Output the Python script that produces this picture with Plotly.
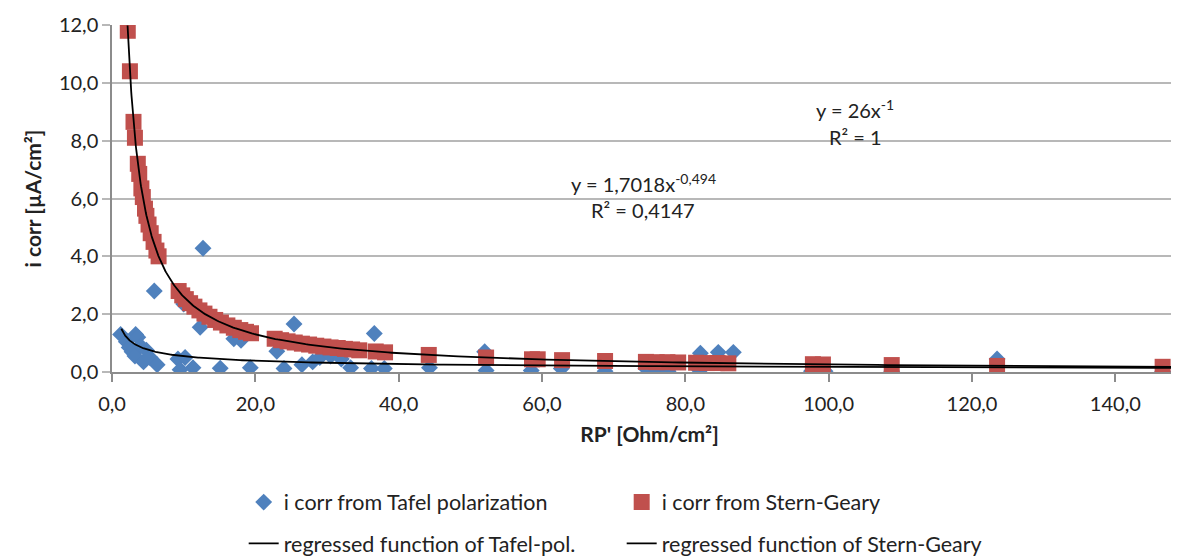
import plotly.graph_objects as go

# ---------------- data ----------------
tafel_x = [1.2, 2.0, 2.4, 2.8, 3.3, 3.6, 3.2, 4.0, 4.4, 4.8, 5.3, 6.3, 5.9, 9.2, 9.5,
           10.2, 10.0, 11.3, 12.3, 12.7, 15.1, 17.0, 18.0, 19.3, 23.0, 24.0, 25.4,
           26.5, 28.0, 29.0, 30.5, 32.0, 33.3, 36.2, 36.6, 38.0, 44.3, 52.0, 52.2,
           58.5, 62.7, 68.8, 74.5, 76.2, 77.6, 82.1, 84.6, 86.7, 82.0, 97.6, 99.5,
           108.8, 123.5, 146.6]
tafel_y = [1.30, 1.05, 0.85, 0.70, 1.30, 1.20, 0.55, 0.90, 0.35, 0.75, 0.50, 0.25,
           2.80, 0.45, 0.08, 0.50, 2.35, 0.15, 1.55, 4.28, 0.13, 1.15, 1.10, 0.15,
           0.72, 0.12, 1.66, 0.25, 0.35, 0.50, 0.55, 0.45, 0.15, 0.12, 1.33, 0.12,
           0.15, 0.70, 0.05, 0.05, 0.12, 0.03, 0.12, 0.05, 0.03, 0.65, 0.68, 0.68,
           0.05, 0.03, 0.03, 0.03, 0.45, 0.02]

sg_x = [2.2, 2.5, 3.0, 3.2, 3.6, 3.8, 4.1, 4.3, 4.6, 4.8, 5.1, 5.4, 5.8, 6.2, 6.5,
        9.3, 9.8, 10.3, 10.9, 11.5, 12.2, 12.9, 13.6, 14.4, 15.2, 16.1, 17.0, 17.9,
        18.7, 19.4,
        22.7, 23.6, 24.5, 25.5, 26.5, 27.5, 28.5, 29.5, 30.5, 31.5, 32.5, 33.5, 34.5,
        36.8, 38.1, 44.2, 52.2, 58.6, 59.4, 62.8, 68.8, 74.5, 76.0, 77.5, 79.0,
        81.5, 83.0, 84.5, 86.0, 97.8, 99.2, 108.8, 123.5, 146.6]
sg_y = [11.80, 10.40, 8.65, 8.10, 7.20, 6.85, 6.35, 6.05, 5.65, 5.40, 5.10, 4.80,
        4.50, 4.20, 4.00,
        2.80, 2.65, 2.52, 2.38, 2.26, 2.13, 2.02, 1.91, 1.80, 1.71, 1.61, 1.53, 1.45,
        1.39, 1.34,
        1.15, 1.10, 1.06, 1.02, 0.98, 0.95, 0.91, 0.88, 0.85, 0.83, 0.80, 0.78, 0.75,
        0.71, 0.68, 0.59, 0.50, 0.44, 0.44, 0.41, 0.38, 0.35, 0.34, 0.34, 0.33,
        0.32, 0.31, 0.31, 0.30, 0.27, 0.26, 0.24, 0.21, 0.18]

# regression coefficients printed on the chart (y = a * x^b)
tafel_a, tafel_b = 1.7018, -0.494
sg_a, sg_b = 26.0, -1.0
tafel_fit_range = (1.3, 150.0)
sg_fit_range = (2.17, 150.0)

x_ticks = [0, 20, 40, 60, 80, 100, 120, 140]
y_ticks = [0, 2, 4, 6, 8, 10, 12]


def fit_curve(a, b, lo, hi, n=300):
    xs = [lo * (hi / lo) ** (i / (n - 1)) for i in range(n)]
    return xs, [a * x ** b for x in xs]


tfx, tfy = fit_curve(tafel_a, tafel_b, *tafel_fit_range)
sfx, sfy = fit_curve(sg_a, sg_b, *sg_fit_range)

FONT = "Lato"
BLUE = "#4F81BD"
RED = "#C0504D"
GRID = "#B8B8B8"
AXIS = "#8C8C8C"
TXT = "#222"

fig = go.Figure()
fig.add_trace(go.Scatter(
    x=tafel_x, y=tafel_y, mode="markers", name="i corr from Tafel polarization",
    marker=dict(symbol="diamond", size=13, color=BLUE), legend="legend"))
fig.add_trace(go.Scatter(
    x=sg_x, y=sg_y, mode="markers", name="i corr from Stern-Geary",
    marker=dict(symbol="square", size=16, color=RED), legend="legend"))
fig.add_trace(go.Scatter(
    x=tfx, y=tfy, mode="lines", name="regressed function of Tafel-pol.",
    line=dict(color="black", width=1.8), legend="legend2"))
fig.add_trace(go.Scatter(
    x=sfx, y=sfy, mode="lines", name="regressed function of Stern-Geary",
    line=dict(color="black", width=1.8), legend="legend2"))

legend_common = dict(orientation="h", xanchor="left", yanchor="middle",
                     font=dict(family=FONT, size=21.5, color=TXT),
                     entrywidth=333, entrywidthmode="pixels",
                     bgcolor="rgba(0,0,0,0)", itemclick=False)

plot_l, plot_r, plot_t, plot_b = 104, 1179, 17, 371


def px_to_paper(px, py):
    return (px - plot_l) / (plot_r - plot_l), (plot_b - py) / (plot_b - plot_t)


def ann(px, py, text):
    x, y = px_to_paper(px, py)
    return dict(x=x, y=y, xref="paper", yref="paper", text=text, showarrow=False,
                xanchor="center", yanchor="middle",
                font=dict(family=FONT, size=20, color=TXT))


fig.update_layout(
    width=1179, height=556, autosize=False,
    margin=dict(l=plot_l, r=0, t=plot_t, b=556 - plot_b),
    paper_bgcolor="white", plot_bgcolor="white",
    separators=", ",
    font=dict(family=FONT, size=20, color=TXT),
    showlegend=True,
    legend=dict(x=0.1225, y=-0.375, **legend_common),
    legend2=dict(x=0.1225, y=-0.494, **legend_common),
    xaxis=dict(range=[0, 150], tickvals=x_ticks, tickformat=".1f",
               showgrid=False, showline=True, linecolor=AXIS, linewidth=1.5,
               ticks="outside", ticklen=8, tickcolor=AXIS, tickwidth=1.5,
               ticklabelstandoff=5,
               zeroline=False, tickfont=dict(family=FONT, size=20, color=TXT),
               title=dict(text="<b>RP' [Ohm/cm²]</b>", standoff=14,
                          font=dict(family=FONT, size=21, color=TXT))),
    yaxis=dict(range=[0, 12], tickvals=y_ticks, tickformat=".1f",
               showgrid=True, gridcolor=GRID, gridwidth=1.5,
               showline=True, linecolor=AXIS, linewidth=1.5,
               ticks="outside", ticklen=8, tickcolor=GRID, tickwidth=1.5,
               zeroline=False, tickfont=dict(family=FONT, size=20, color=TXT),
               title=dict(text="<b>i corr [µA/cm²]</b>", standoff=12,
                          font=dict(family=FONT, size=21, color=TXT))),
    annotations=[
        ann(847, 103, "y = 26x<sup>-1</sup>"),
        ann(847, 131, "R² = 1"),
        ann(635, 178, "y = 1,7018x<sup>-0,494</sup>"),
        ann(635, 206, "R² = 0,4147"),
    ],
)

fig.write_html("out.html")
